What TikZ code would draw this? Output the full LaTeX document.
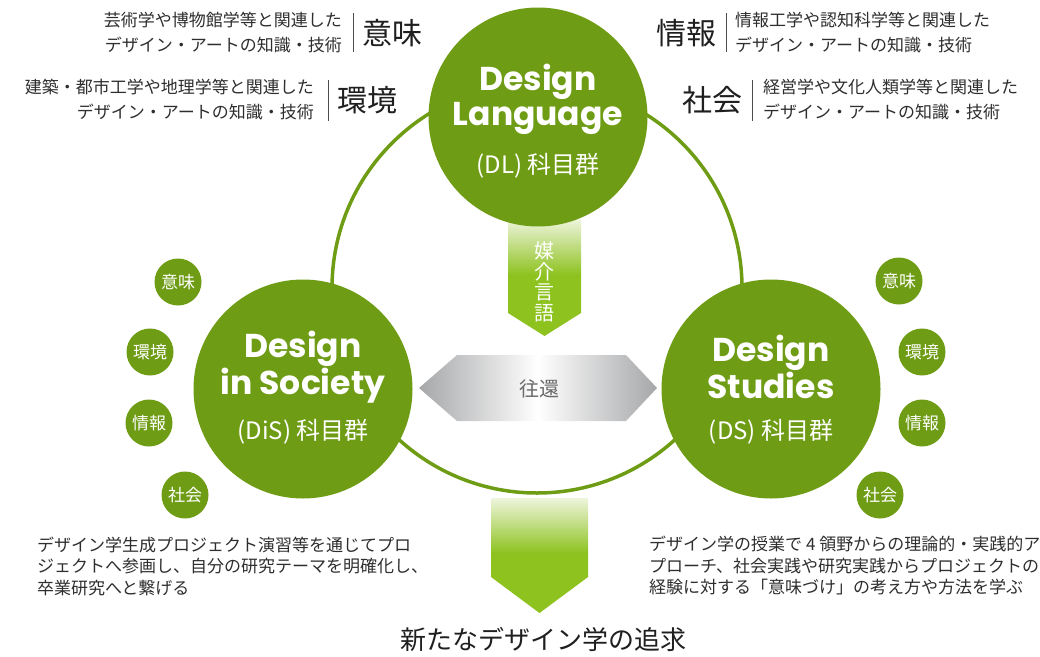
\documentclass[tikz,border=0pt]{standalone}
\usepackage{fontspec}
\setmainfont{Noto Sans CJK JP}
\newfontfamily\titlefont{Poppins}
\usetikzlibrary{positioning}

\definecolor{dsgreen}{HTML}{6F9C15}
\definecolor{arrowgreen}{HTML}{8DC21F}
\definecolor{arrowpale}{HTML}{EEF5DC}
\definecolor{shuttlegray}{HTML}{A6A7A9}

\pgfdeclareverticalshading{greenfade}{100bp}{color(0bp)=(arrowgreen); color(51bp)=(arrowgreen); color(75bp)=(arrowpale); color(100bp)=(arrowpale)}

\begin{document}
\begin{tikzpicture}[x=1pt, y=-1pt,
    group/.style={circle, fill=dsgreen, minimum size=219pt, inner sep=0pt},
    grouptitle/.style={text=white, align=center, inner sep=0pt, font=\titlefont\bfseries\fontsize{33}{35}\selectfont},
    groupsub/.style={text=white, inner sep=0pt, font=\fontsize{24}{26}\selectfont},
    facet/.style={circle, fill=dsgreen, minimum size=47pt, inner sep=0pt, text=white, font=\fontsize{17}{17}\selectfont},
    field/.style={text=black!88, inner sep=0pt, font=\fontsize{30}{30}\selectfont},
    note/.style={text=black!82, inner sep=0pt, font=\fontsize{17}{25}\selectfont},
    bar/.style={draw=black!70, line width=0.8pt}]
    \useasboundingbox (0,0) rectangle (1040,656);

    % ring and arrows
    \draw[dsgreen, line width=3.5pt] (537,288) circle[radius=205];
    \shade[shading=greenfade] (508,219) -- (581,219) -- (581,313) -- (544.5,336) -- (508,313) -- cycle;
    \shade[shading=greenfade] (491,498) -- (588,498) -- (588,577) -- (539.5,613) -- (491,577) -- cycle;
    \shade[left color=shuttlegray, right color=shuttlegray, middle color=white] (419,388) -- (457,355) -- (626,355) -- (657,388) -- (626,421) -- (457,421) -- cycle;
    \node[text=white, align=center, inner sep=0pt, font=\fontsize{20}{20.5}\selectfont] (baikai) at (544.5,282) {媒\\介\\言\\語};
    \node[text=black!58, inner sep=0pt, font=\fontsize{20}{20}\selectfont] (ookan) at (539,389) {往還};

    % subject groups
    \node[group] (dl) at (538,117) {};
    \node[group] (dis) at (303,389) {};
    \node[group] (ds) at (771,389) {};
    \node[grouptitle] (dlname) at (538,99) {Design\\Language};
    \node[groupsub] (dlsub) at (538,166) {(DL)\hspace{5pt}科目群};
    \node[grouptitle] (disname) at (303,367) {Design\\in Society};
    \node[groupsub] (dissub) at (303,432) {(DiS)\hspace{5pt}科目群};
    \node[grouptitle] (dsname) at (771,367) {Design\\Studies};
    \node[groupsub] (dssub) at (771,432) {(DS)\hspace{5pt}科目群};

    % four fields
    \node[facet] (disImi) at (178,282) {意味};
    \node[facet] (disKankyo) at (150,352) {環境};
    \node[facet] (disJoho) at (149,423) {情報};
    \node[facet] (disShakai) at (185,495) {社会};
    \node[facet] (dsImi) at (899,281) {意味};
    \node[facet] (dsKankyo) at (922,352) {環境};
    \node[facet] (dsJoho) at (922,423) {情報};
    \node[facet] (dsShakai) at (880,495) {社会};

    % field notes
    \node[field, anchor=west] (imi) at (362,33) {意味};
    \draw[bar] (353,13) -- (353,52);
    \node[note, anchor=east, align=right] (imiNote) at (342,32.5) {芸術学や博物館学等と関連した\\デザイン・アートの知識・技術};
    \node[field, anchor=west] (kankyo) at (337,100) {環境};
    \draw[bar] (328,80) -- (328,121);
    \node[note, anchor=east, align=right] (kankyoNote) at (314,100) {建築・都市工学や地理学等と関連した\\デザイン・アートの知識・技術};
    \node[field, anchor=east] (joho) at (717,33) {情報};
    \draw[bar] (726,13) -- (726,52);
    \node[note, anchor=west, align=left] (johoNote) at (735,32.5) {情報工学や認知科学等と関連した\\デザイン・アートの知識・技術};
    \node[field, anchor=east] (shakai) at (743,100) {社会};
    \draw[bar] (752,80) -- (752,121);
    \node[note, anchor=west, align=left] (shakaiNote) at (763,100) {経営学や文化人類学等と関連した\\デザイン・アートの知識・技術};

    % bottom texts
    \node[note, anchor=west, align=left, font=\fontsize{17}{21.5}\selectfont] (disNote) at (37,566) {デザイン学生成プロジェクト演習等を通じてプロ\\ジェクトへ参画し、自分の研究テーマを明確化し、\\卒業研究へと繋げる};
    \node[note, anchor=west, align=left, font=\fontsize{17}{21.5}\selectfont] (dsNote) at (649,565.5) {デザイン学の授業で 4 領野からの理論的・実践的ア\\プローチ、社会実践や研究実践からプロジェクトの\\経験に対する「意味づけ」の考え方や方法を学ぶ};
    \node[text=black!88, inner sep=0pt, font=\fontsize{26}{26}\selectfont] (goal) at (543,640) {新たなデザイン学の追求};
\end{tikzpicture}
\end{document}
